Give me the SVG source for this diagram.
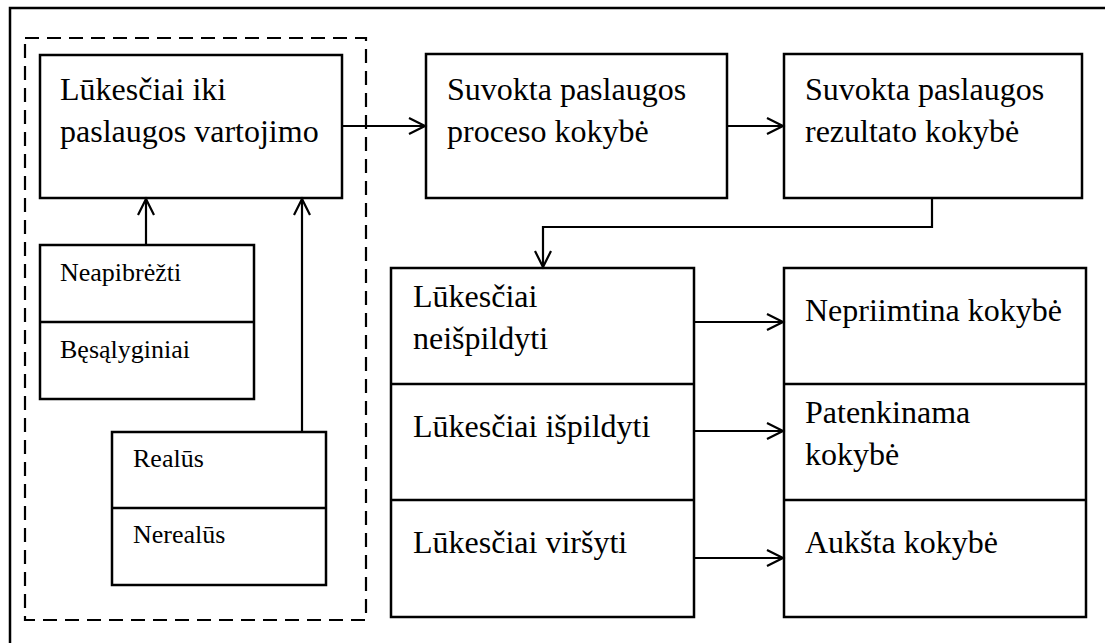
<svg xmlns="http://www.w3.org/2000/svg" width="1105" height="643" viewBox="0 0 1105 643">
<defs>
<marker id="arr" markerUnits="userSpaceOnUse" markerWidth="20" markerHeight="20" refX="17" refY="9" orient="auto" viewBox="0 0 20 18">
<path d="M1,1 L17,9 L1,17" fill="none" stroke="#000" stroke-width="2.2"/>
</marker>
<style>
.box{fill:#fff;stroke:#000;stroke-width:2.5}
.div{stroke:#000;stroke-width:2.5}
text{font-family:'Liberation Serif','Times New Roman',Times,'DejaVu Serif',serif;fill:#000}
.t{font-size:32px}
.s{font-size:26px}
.c{fill:none;stroke:#000;stroke-width:2.2}
</style>
</defs>
<rect width="1105" height="643" fill="#fff"/>
<path d="M1105,8 H10 V643" fill="none" stroke="#000" stroke-width="2.5"/>
<rect id="group-border" x="25" y="38" width="341" height="582" fill="none" stroke="#000" stroke-width="2.2" stroke-dasharray="14,8"/>
<g id="n-expect">
<rect class="box" x="40" y="55" width="302" height="143"/>
<text class="t" x="60" y="100">Lūkesčiai iki</text>
<text class="t" x="60" y="142">paslaugos vartojimo</text>
</g>
<g id="n-undefined">
<rect class="box" x="40" y="245" width="214" height="154"/>
<line class="div" x1="40" y1="322" x2="254" y2="322"/>
<text class="s" x="60" y="281">Neapibrėžti</text>
<text class="s" x="60" y="358">Bęsąlyginiai</text>
</g>
<g id="n-real">
<rect class="box" x="112" y="432" width="214" height="153"/>
<line class="div" x1="112" y1="508" x2="326" y2="508"/>
<text class="s" x="133" y="467">Realūs</text>
<text class="s" x="133" y="543">Nerealūs</text>
</g>
<g id="n-process">
<rect class="box" x="426" y="54" width="301" height="144"/>
<text class="t" x="447" y="100">Suvokta paslaugos</text>
<text class="t" x="447" y="142">proceso kokybė</text>
</g>
<g id="n-result">
<rect class="box" x="784" y="54" width="298" height="144"/>
<text class="t" x="805" y="100">Suvokta paslaugos</text>
<text class="t" x="805" y="142">rezultato kokybė</text>
</g>
<g id="n-outcomes">
<rect class="box" x="391" y="268" width="303" height="349"/>
<line class="div" x1="391" y1="384" x2="694" y2="384"/>
<line class="div" x1="391" y1="500" x2="694" y2="500"/>
<text class="t" x="413" y="307">Lūkesčiai</text>
<text class="t" x="413" y="349">neišpildyti</text>
<text class="t" x="413" y="437">Lūkesčiai išpildyti</text>
<text class="t" x="413" y="553">Lūkesčiai viršyti</text>
</g>
<g id="n-quality">
<rect class="box" x="784" y="268" width="302" height="349"/>
<line class="div" x1="784" y1="384" x2="1086" y2="384"/>
<line class="div" x1="784" y1="500" x2="1086" y2="500"/>
<text class="t" x="805" y="321">Nepriimtina kokybė</text>
<text class="t" x="805" y="423">Patenkinama</text>
<text class="t" x="805" y="465">kokybė</text>
<text class="t" x="805" y="553">Aukšta kokybė</text>
</g>
<g id="connectors">
<line class="c" x1="146" y1="245" x2="146" y2="199" marker-end="url(#arr)"/>
<line class="c" x1="302" y1="432" x2="302" y2="199" marker-end="url(#arr)"/>
<line class="c" x1="342" y1="126" x2="425" y2="126" marker-end="url(#arr)"/>
<line class="c" x1="727" y1="126" x2="783" y2="126" marker-end="url(#arr)"/>
<path class="c" d="M932,198 V227 H543 V267" marker-end="url(#arr)"/>
<line class="c" x1="694" y1="322" x2="783" y2="322" marker-end="url(#arr)"/>
<line class="c" x1="694" y1="431" x2="783" y2="431" marker-end="url(#arr)"/>
<line class="c" x1="694" y1="558" x2="783" y2="558" marker-end="url(#arr)"/>
</g>
</svg>
